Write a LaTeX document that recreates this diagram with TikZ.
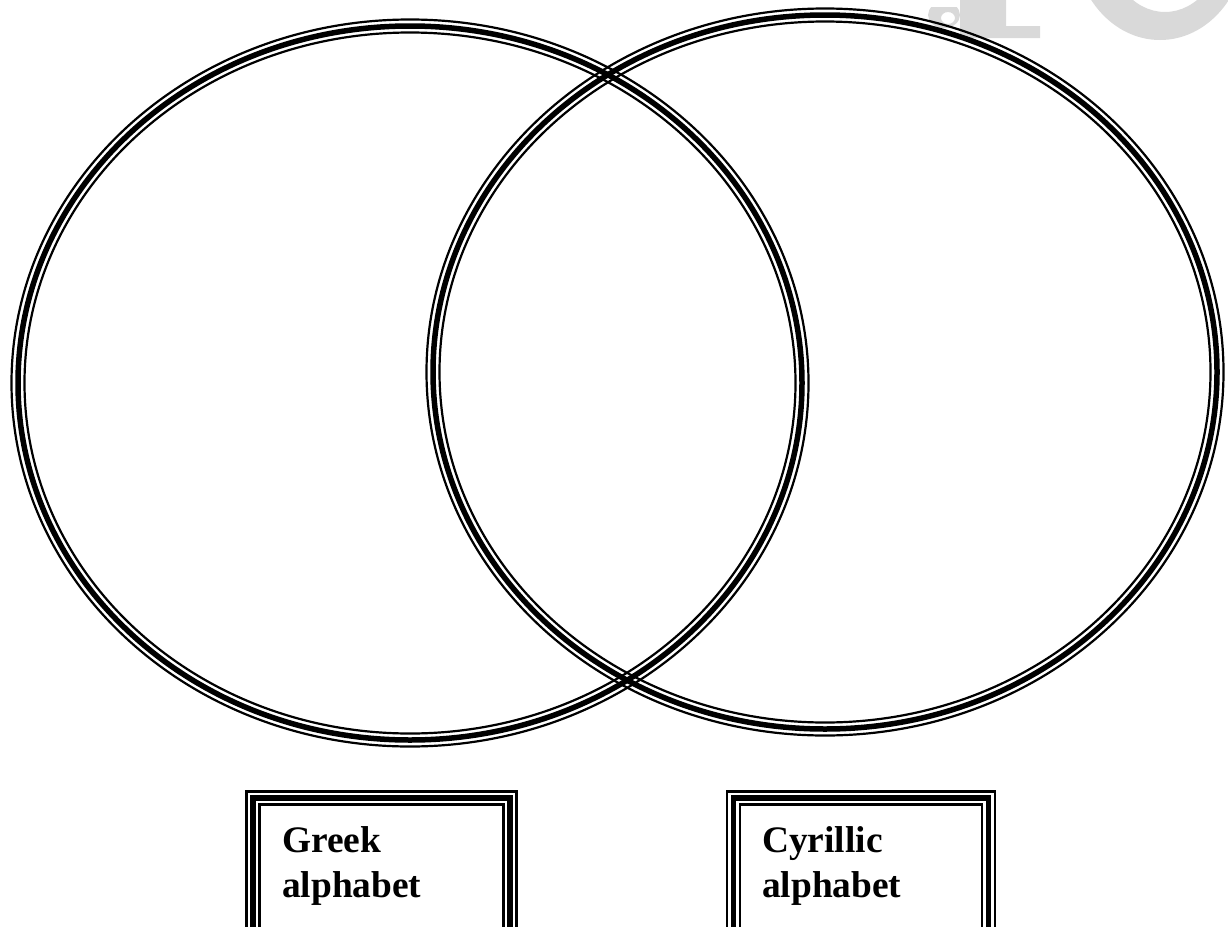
\documentclass[tikz,border=0pt]{standalone}
\usepackage{fontspec}
\setmainfont{Liberation Serif}
\newcommand\tripleell[4]{%
  \draw[thickln] (#1,#2) ellipse [x radius=#3pt, y radius=#4pt];
  \draw[thinln] (#1,#2) ellipse [x radius=#3pt+6.5pt, y radius=#4pt+6.5pt];
  \draw[thinln] (#1,#2) ellipse [x radius=#3pt-6.5pt, y radius=#4pt-6.5pt];}
\newcommand\triplebox[3]{%
  \draw[thinln] (#1-6.5,930) -- (#1-6.5,#3-6.5) -- (#2+6.5,#3-6.5) -- (#2+6.5,930);
  \draw[thickln] (#1,930) -- (#1,#3) -- (#2,#3) -- (#2,930);
  \draw[thinln] (#1+6.5,930) -- (#1+6.5,#3+6.5) -- (#2-6.5,#3+6.5) -- (#2-6.5,930);}
\tikzset{
  thinln/.style={line width=2.2pt, black},
  thickln/.style={line width=5.5pt, black},
  wm/.style={fill=black!15, draw=none},
  lbl/.style={anchor=base west, inner sep=0pt, font=\bfseries\fontsize{37.4}{45}\selectfont}
}
\begin{document}
\begin{tikzpicture}[x=1pt,y=-1pt]
\fill[white] (0,0) rectangle (1228,926);
\useasboundingbox (0,0) rectangle (1228,926);
\clip (0,0) rectangle (1228,926);
% watermark
\fill[wm, even odd rule] (1160,-60) ellipse [x radius=86pt, y radius=100pt]
      (1165,-60) ellipse [x radius=58pt, y radius=72pt];
\fill[wm] (960,-2) -- (1006,-2) -- (1006,26) -- (1040,26) -- (1040,38) -- (960,38) -- cycle;
\fill[wm, even odd rule] (944,15) ellipse [x radius=16pt, y radius=13pt]
      (948,18) ellipse [x radius=7pt, y radius=6pt];
\fill[white] (925,-2) rectangle (958,7);
% circles
\tripleell{410}{383}{392}{357}
\tripleell{825}{372}{392}{357}
% boxes
\triplebox{253}{510}{798}
\triplebox{733.5}{988.5}{798}
\node[lbl] (g1) at (282,852) {Greek};
\node[lbl] (g2) at (282,897) {alphabet};
\node[lbl] (c1) at (762,852) {Cyrillic};
\node[lbl] (c2) at (762,897) {alphabet};
\end{tikzpicture}
\end{document}
